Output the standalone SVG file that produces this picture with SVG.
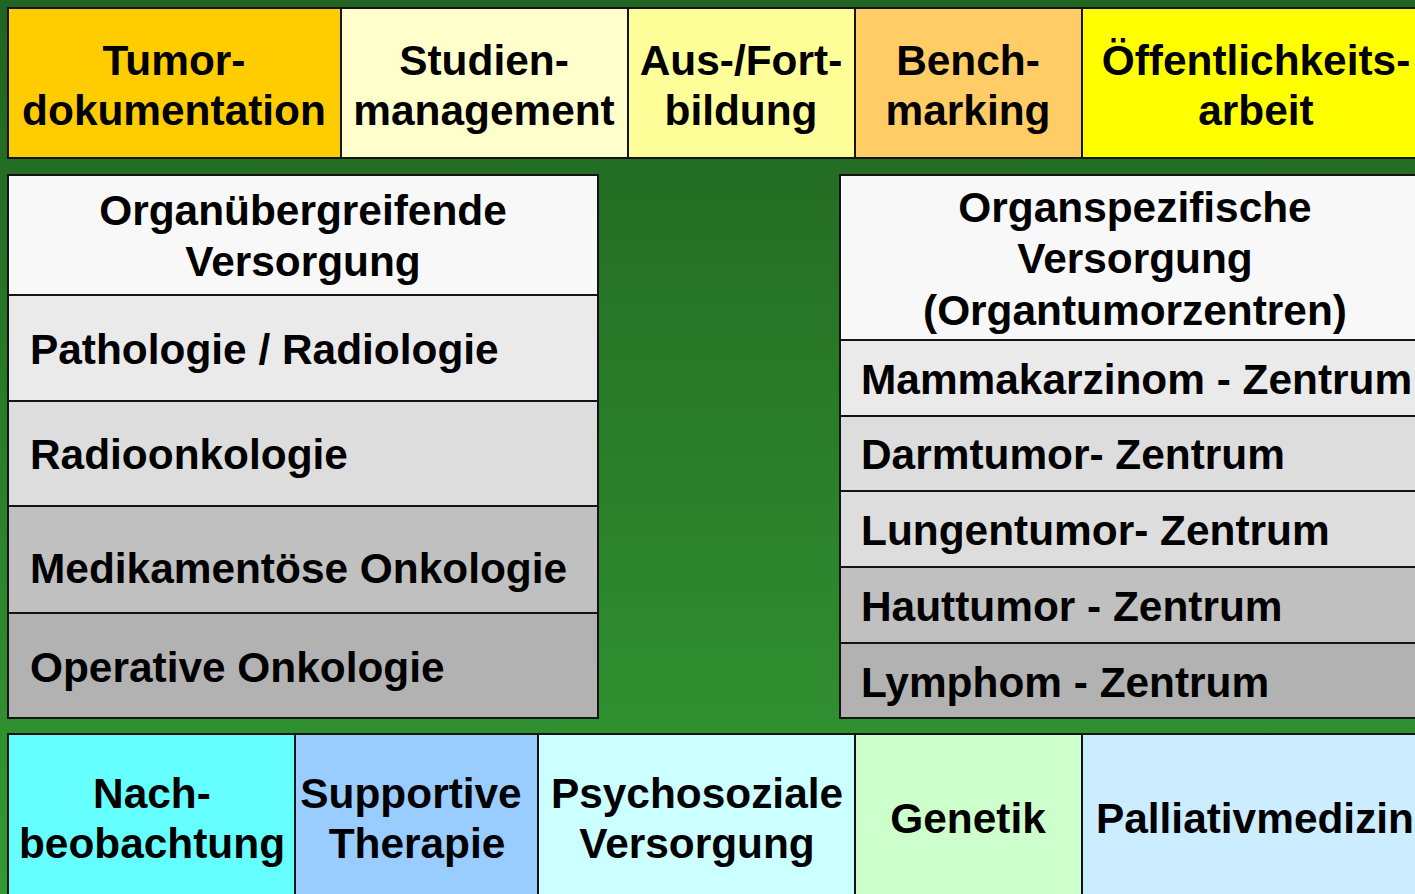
<svg xmlns="http://www.w3.org/2000/svg" width="1415" height="894" viewBox="0 0 1415 894">
<defs>
<linearGradient id="bg" x1="0" y1="0" x2="0" y2="1">
<stop offset="0" stop-color="#216321"/>
<stop offset="1" stop-color="#339933"/>
</linearGradient>
<style>
.b{stroke:#141414;stroke-width:2}
.t{font-family:"Liberation Sans",Arial,sans-serif;font-weight:bold;font-size:42.4px;fill:#000}
.c{text-anchor:middle}
</style>
</defs>
<rect x="0" y="0" width="1415" height="894" fill="url(#bg)"/>
<g id="top-row">
<g id="tumordoku"><rect class="b" x="8" y="8" width="333" height="150" fill="#FFCC00"/><text class="t c" x="174" y="75">Tumor-</text><text class="t c" x="174" y="125">dokumentation</text></g>
<g id="studien"><rect class="b" x="341" y="8" width="287" height="150" fill="#FFFFCC"/><text class="t c" x="484" y="75">Studien-</text><text class="t c" x="484" y="125">management</text></g>
<g id="ausfort"><rect class="b" x="628" y="8" width="227" height="150" fill="#FFFF99"/><text class="t c" x="741" y="75">Aus-/Fort-</text><text class="t c" x="741" y="125">bildung</text></g>
<g id="bench"><rect class="b" x="855" y="8" width="227" height="150" fill="#FFCC66"/><text class="t c" x="968" y="75">Bench-</text><text class="t c" x="968" y="125">marking</text></g>
<g id="oeff"><rect class="b" x="1082" y="8" width="348" height="150" fill="#FFFF00"/><text class="t c" x="1256" y="75">Öffentlichkeits-</text><text class="t c" x="1256" y="125">arbeit</text></g>
</g>
<g id="left-block">
<g id="organuebergreifend"><rect class="b" x="8" y="175" width="590" height="120" fill="#F8F8F8"/><text class="t c" x="303" y="225">Organübergreifende</text><text class="t c" x="303" y="276">Versorgung</text></g>
<g id="pathologie"><rect class="b" x="8" y="295" width="590" height="106" fill="#EAEAEA"/><text class="t" x="30" y="364">Pathologie / Radiologie</text></g>
<g id="radioonko"><rect class="b" x="8" y="401" width="590" height="105" fill="#DDDDDD"/><text class="t" x="30" y="469">Radioonkologie</text></g>
<g id="medikament"><rect class="b" x="8" y="506" width="590" height="107" fill="#C0C0C0"/><text class="t" x="30" y="583">Medikamentöse Onkologie</text></g>
<g id="operativ"><rect class="b" x="8" y="613" width="590" height="105" fill="#B2B2B2"/><text class="t" x="30" y="682">Operative Onkologie</text></g>
</g>
<g id="right-block">
<g id="organspezifisch"><rect class="b" x="840" y="175" width="590" height="165" fill="#F8F8F8"/><text class="t c" x="1135" y="222">Organspezifische</text><text class="t c" x="1135" y="273">Versorgung</text><text class="t c" x="1135" y="325">(Organtumorzentren)</text></g>
<g id="mamma"><rect class="b" x="840" y="340" width="590" height="76" fill="#EAEAEA"/><text class="t" x="861" y="394">Mammakarzinom - Zentrum</text></g>
<g id="darm"><rect class="b" x="840" y="416" width="590" height="75" fill="#DDDDDD"/><text class="t" x="861" y="469">Darmtumor- Zentrum</text></g>
<g id="lunge"><rect class="b" x="840" y="491" width="590" height="76" fill="#DDDDDD"/><text class="t" x="861" y="545">Lungentumor- Zentrum</text></g>
<g id="haut"><rect class="b" x="840" y="567" width="590" height="76" fill="#C0C0C0"/><text class="t" x="861" y="621">Hauttumor - Zentrum</text></g>
<g id="lymphom"><rect class="b" x="840" y="643" width="590" height="75" fill="#B2B2B2"/><text class="t" x="861" y="697">Lymphom - Zentrum</text></g>
</g>
<g id="bottom-row">
<g id="nachbeob"><rect class="b" x="8" y="734" width="287" height="180" fill="#66FFFF"/><text class="t c" x="152" y="808">Nach-</text><text class="t c" x="152" y="858">beobachtung</text></g>
<g id="supportiv"><rect class="b" x="295" y="734" width="243" height="180" fill="#99CCFF"/><text class="t c" x="411" y="808">Supportive</text><text class="t c" x="417" y="858">Therapie</text></g>
<g id="psychosozial"><rect class="b" x="538" y="734" width="317" height="180" fill="#CCFFFF"/><text class="t c" x="697" y="808">Psychosoziale</text><text class="t c" x="697" y="858">Versorgung</text></g>
<g id="genetik"><rect class="b" x="855" y="734" width="227" height="180" fill="#CCFFCC"/><text class="t c" x="968" y="833">Genetik</text></g>
<g id="palliativ"><rect class="b" x="1082" y="734" width="348" height="180" fill="#CCECFF"/><text class="t c" x="1255" y="833">Palliativmedizin</text></g>
</g>
<g id="connectors"/>
</svg>
